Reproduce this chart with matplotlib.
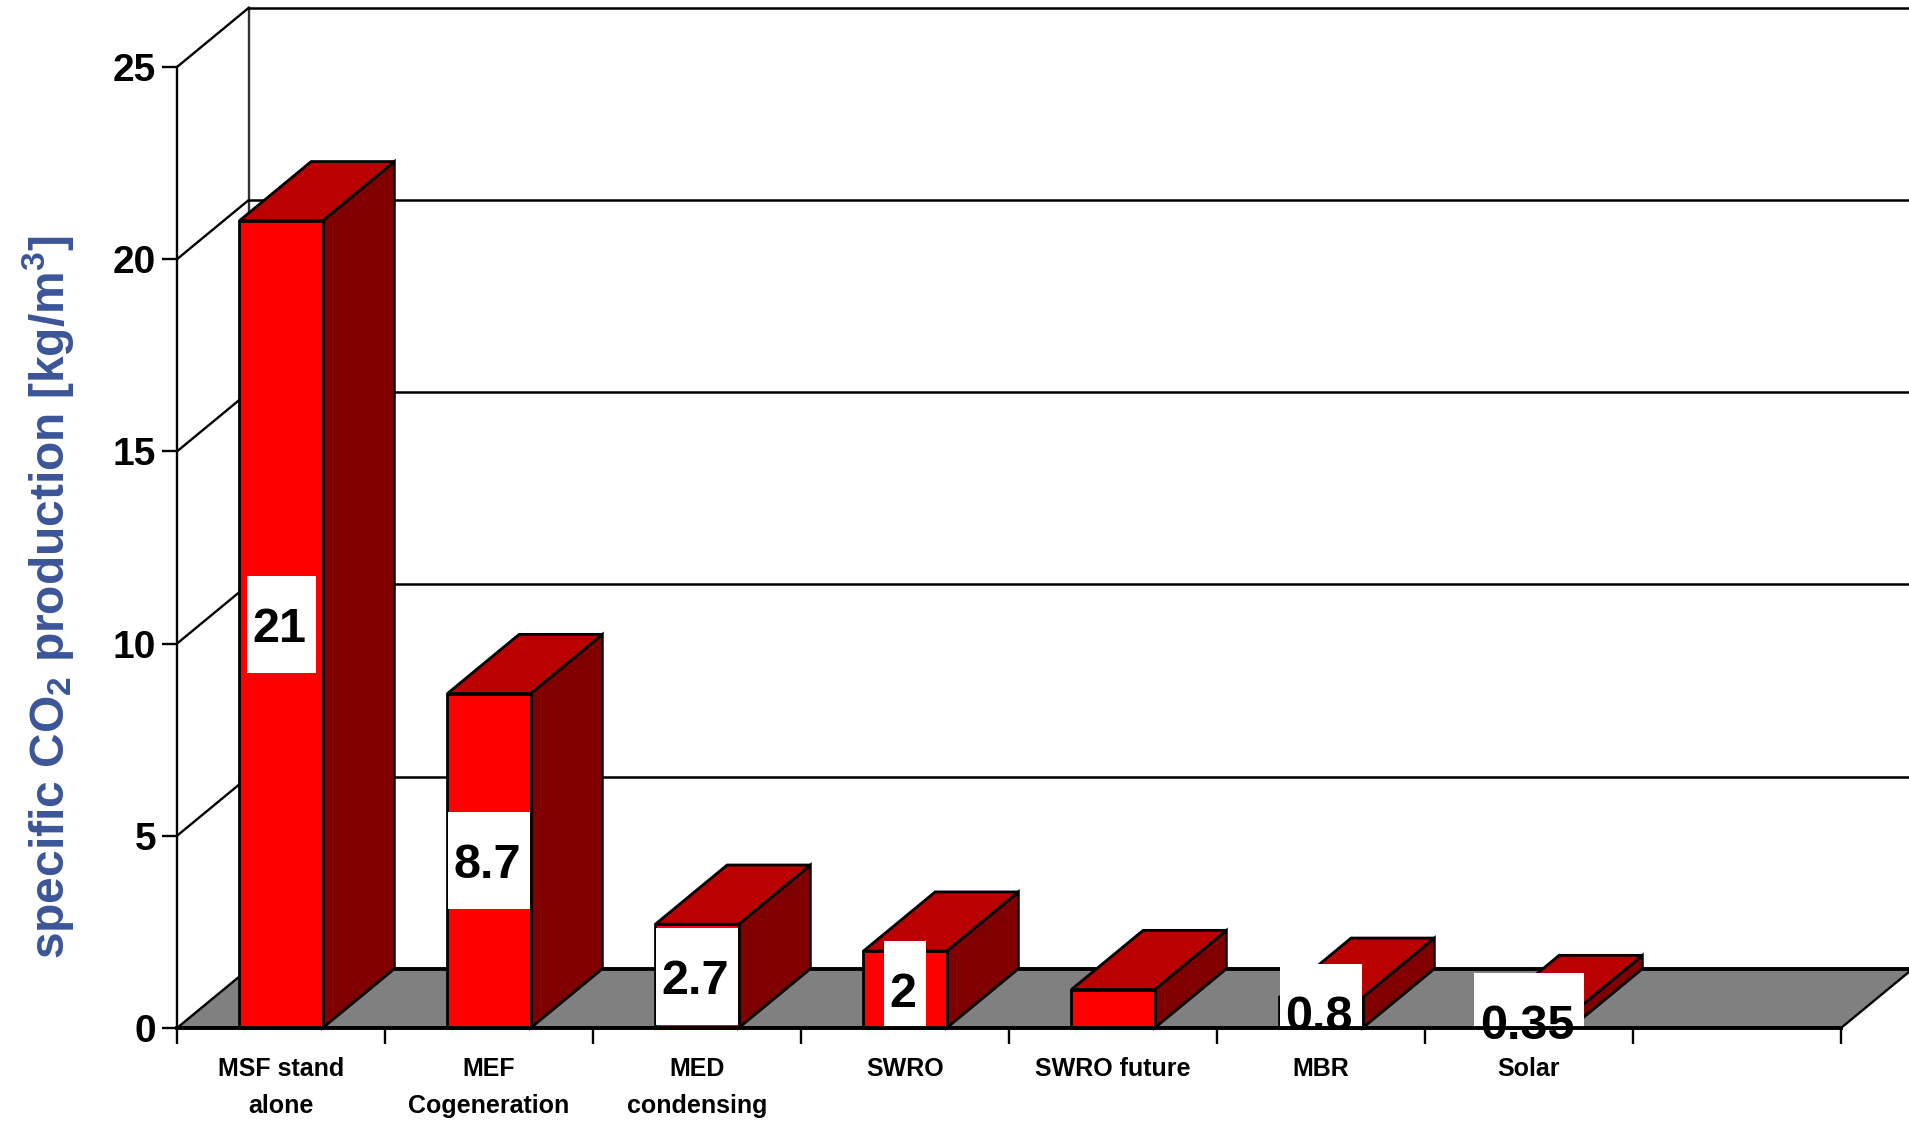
import matplotlib
matplotlib.use("Agg")
import matplotlib.pyplot as plt
from matplotlib.patches import Polygon, Rectangle

# values
categories = ["MSF stand\nalone", "MEF\nCogeneration", "MED\ncondensing", "SWRO",
              "SWRO future", "MBR", "Solar"]
co2_values = [21, 8.7, 2.7, 2, 1, 0.8, 0.35]
value_labels = ["21", "8.7", "2.7", "2", None, "0.8", "0.35"]
y_ticks = [0, 5, 10, 15, 20, 25]

# fake 3D depth, in data units
depth_x = 0.345
depth_y = 1.54
bar_width = 0.4
n_slots = 8

plt.rcParams['font.family'] = ['Liberation Sans', 'DejaVu Sans']
plt.rcParams['mathtext.default'] = 'regular'

fig = plt.figure(figsize=(19.09, 11.21), dpi=100)
ax = fig.add_axes([177 / 1909, 1 - 1028 / 1121, (1841 - 177) / 1909, (1028 - 67) / 1121])
ax.set_xlim(0, n_slots)
ax.set_ylim(0, 25)

# floor
ax.add_patch(Polygon([(0, 0), (n_slots, 0), (n_slots + depth_x, depth_y), (depth_x, depth_y)],
                     closed=True, facecolor="#808080", edgecolor="none", clip_on=False, zorder=1))
ax.plot([depth_x, n_slots + depth_x], [depth_y, depth_y], color="black", lw=2.8, clip_on=False, zorder=1.5)
ax.plot([n_slots, n_slots + depth_x], [0, depth_y], color="black", lw=1.7, clip_on=False, zorder=1.5)

# back wall and gridlines
ax.plot([depth_x, depth_x], [depth_y, 25 + depth_y], color="#333333", lw=1.7, clip_on=False, zorder=1.2)
for t in y_ticks:
    ax.plot([0, depth_x], [t, t + depth_y], color="black", lw=1.7, clip_on=False, zorder=1.6)
    if t > 0:
        ax.plot([depth_x, n_slots + depth_x], [t + depth_y, t + depth_y], color="black", lw=1.8,
                clip_on=False, zorder=1.2)

# bars
centers = [i + 0.5 for i in range(len(categories))]
for c, v in zip(centers, co2_values):
    x0 = c - bar_width / 2
    x1 = c + bar_width / 2
    side = [(x1, 0), (x1 + depth_x, depth_y), (x1 + depth_x, v + depth_y), (x1, v)]
    top = [(x0, v), (x1, v), (x1 + depth_x, v + depth_y), (x0 + depth_x, v + depth_y)]
    front = [(x0, 0), (x1, 0), (x1, v), (x0, v)]
    for pts, col in [(side, "#800000"), (top, "#BB0000"), (front, "#FF0000")]:
        ax.add_patch(Polygon(pts, closed=True, facecolor=col, edgecolor="black", lw=2,
                             joinstyle="miter", clip_on=False, zorder=3))

# value labels with white boxes, the boxes get cut at the axis
renderer = fig.canvas.get_renderer()
box_height = 97 / (961 / 25)
for c, v, lab in zip(centers, co2_values, value_labels):
    if lab is None:
        continue
    txt = ax.text(c - 0.01, v / 2, lab, ha="center", va="center_baseline", fontsize=35, fontweight="bold",
                  color="black", zorder=6)
    ext = txt.get_window_extent(renderer)
    w = (ext.width + 15) / (1664 / n_slots)
    ax.add_patch(Rectangle((c - w / 2, v / 2 - box_height / 2), w, box_height,
                           facecolor="white", edgecolor="none", zorder=4))

# axes
for s in ["top", "right"]:
    ax.spines[s].set_visible(False)
ax.spines["left"].set_linewidth(1.7)
ax.spines["bottom"].set_linewidth(2.8)
ax.spines["bottom"].set_zorder(5)
ax.set_yticks(y_ticks)
ax.set_yticklabels([str(t) for t in y_ticks], fontsize=28, fontweight="bold")
ax.tick_params(axis="y", length=11, width=1.7, pad=4)
ax.set_xticks(range(n_slots + 1))
ax.set_xticklabels([])
ax.tick_params(axis="x", which="major", length=11.5, width=1.7)
ax.set_xticks(centers, minor=True)
ax.set_xticklabels(categories, minor=True, fontsize=18, fontweight="bold", linespacing=1.7)
ax.tick_params(axis="x", which="minor", length=0, pad=21)

fig.text(48 / 1909, 1 - 597 / 1121, "specific CO$_2$ production [kg/m$^3$]", rotation=90, ha="center",
         va="center", fontsize=34.5, fontweight="bold", color="#3B5598")

fig.savefig("out.png", dpi=100)
